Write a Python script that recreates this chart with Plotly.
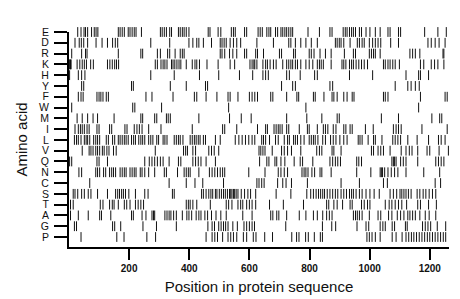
import plotly.graph_objects as go

amino_acids = ["E", "D", "R", "K", "H", "Y", "F", "W", "M", "I",
               "L", "V", "Q", "N", "C", "S", "T", "A", "G", "P"]

pos_E = [29, 40, 50, 55, 62, 75, 84, 90, 96, 164, 170, 177, 184, 197, 203, 210, 217, 223, 241, 304, 310, 317, 324, 335, 341, 364, 370, 377, 383, 390, 399, 463, 469, 496, 505, 540, 547, 553, 584, 591, 629, 636, 643, 658, 665, 671, 687, 694, 705, 711, 718, 724, 731, 738, 744, 795, 833, 868, 875, 912, 919, 925, 933, 940, 946, 953, 966, 973, 988, 1001, 1019, 1035, 1061, 1068, 1096, 1103, 1183, 1227, 1255]
pos_D = [20, 34, 41, 49, 62, 90, 110, 128, 145, 154, 162, 272, 335, 399, 412, 425, 432, 447, 474, 503, 509, 516, 523, 536, 547, 558, 571, 625, 680, 731, 738, 753, 771, 788, 806, 826, 886, 892, 899, 905, 914, 935, 959, 966, 975, 982, 999, 1010, 1019, 1028, 1037, 1070, 1096, 1194, 1205, 1218, 1231, 1251]
pos_R = [9, 42, 55, 60, 164, 239, 245, 294, 304, 328, 335, 353, 370, 377, 383, 503, 509, 518, 534, 545, 558, 584, 591, 621, 627, 647, 700, 707, 747, 753, 799, 806, 815, 835, 853, 872, 916, 946, 953, 999, 1006, 1013, 1019, 1035, 1134, 1143, 1152, 1167, 1244, 1247]
pos_K = [1, 3, 5, 7, 27, 36, 44, 51, 58, 72, 81, 128, 136, 144, 152, 158, 165, 287, 294, 306, 313, 319, 326, 341, 346, 352, 359, 366, 372, 390, 410, 419, 425, 434, 459, 496, 536, 551, 602, 609, 615, 618, 625, 645, 654, 660, 669, 680, 689, 711, 724, 731, 738, 744, 753, 760, 771, 788, 799, 811, 826, 833, 839, 846, 872, 908, 914, 921, 933, 940, 946, 955, 964, 973, 982, 993, 1046, 1052, 1061, 1068, 1077, 1085, 1099, 1169, 1180, 1205, 1216, 1227, 1247]
pos_H = [2, 31, 42, 53, 272, 350, 434, 498, 567, 611, 645, 654, 663, 724, 733, 769, 817, 826, 933, 1010, 1121, 1163, 1169, 1196]
pos_Y = [42, 49, 208, 214, 337, 390, 454, 461, 707, 744, 753, 868, 877, 1085, 1127, 1138, 1152, 1165]
pos_F = [31, 40, 47, 93, 100, 106, 113, 124, 131, 256, 276, 346, 417, 425, 456, 492, 529, 536, 562, 600, 609, 618, 627, 671, 678, 724, 758, 764, 813, 819, 848, 875, 881, 892, 914, 925, 942, 948, 1046, 1052, 1061, 1169, 1251, 1258]
pos_W = [9, 212, 219, 308, 531, 788, 1163]
pos_M = [27, 44, 62, 80, 95, 150, 239, 245, 285, 292, 324, 330, 337, 432, 534, 573, 606, 724, 791, 841, 892, 899, 1039, 1096, 1207, 1233, 1240]
pos_I = [20, 31, 38, 44, 51, 60, 67, 93, 100, 135, 142, 186, 193, 217, 226, 234, 243, 265, 306, 410, 511, 518, 558, 627, 654, 660, 682, 689, 696, 702, 709, 724, 731, 766, 793, 799, 826, 846, 853, 861, 879, 888, 914, 921, 935, 942, 986, 1012, 1079, 1088, 1096, 1105, 1174, 1258]
pos_L = [18, 25, 31, 40, 51, 57, 62, 69, 82, 89, 95, 102, 124, 131, 145, 152, 164, 170, 177, 184, 190, 197, 208, 215, 221, 232, 239, 245, 252, 265, 272, 279, 292, 298, 313, 319, 326, 350, 357, 364, 370, 379, 403, 410, 417, 423, 430, 436, 447, 454, 487, 503, 553, 565, 576, 587, 598, 609, 618, 641, 647, 654, 667, 687, 696, 716, 727, 733, 747, 753, 760, 771, 782, 799, 806, 813, 819, 828, 844, 853, 870, 879, 888, 901, 914, 925, 962, 968, 975, 995, 1013, 1019, 1041, 1077, 1085, 1094, 1103, 1127, 1158, 1196, 1229, 1238, 1251]
pos_V = [44, 67, 73, 80, 89, 95, 102, 111, 117, 126, 133, 148, 157, 287, 381, 388, 394, 412, 421, 465, 474, 483, 498, 632, 638, 645, 652, 676, 707, 716, 727, 740, 771, 824, 833, 841, 875, 881, 905, 1006, 1013, 1028, 1037, 1046, 1068, 1105, 1121, 1132, 1141, 1160, 1191, 1200, 1231, 1262]
pos_Q = [2, 9, 93, 100, 128, 252, 267, 276, 285, 294, 304, 313, 333, 364, 372, 412, 421, 430, 439, 456, 487, 634, 658, 665, 685, 691, 705, 718, 749, 769, 777, 811, 868, 877, 886, 894, 903, 957, 964, 973, 1074, 1079, 1083, 1088, 1103, 1112, 1121, 1160, 1220, 1229, 1238, 1247]
pos_N = [33, 42, 89, 95, 102, 115, 122, 135, 142, 148, 155, 170, 177, 184, 190, 203, 210, 217, 223, 237, 243, 252, 265, 285, 317, 324, 361, 383, 390, 397, 403, 432, 467, 476, 485, 494, 503, 511, 518, 598, 652, 696, 705, 716, 727, 775, 782, 788, 795, 808, 817, 835, 841, 872, 957, 1004, 1035, 1039, 1043, 1050, 1061, 1072, 1083, 1094, 1121, 1180, 1233]
pos_C = [69, 333, 390, 419, 445, 514, 625, 632, 641, 649, 694, 711, 722, 740, 793, 905, 966, 1046, 1059, 1218, 1236]
pos_S = [14, 20, 29, 42, 51, 64, 73, 95, 128, 155, 162, 168, 175, 181, 188, 199, 221, 252, 263, 344, 350, 441, 447, 456, 465, 472, 478, 487, 492, 500, 507, 514, 520, 527, 534, 538, 542, 547, 551, 556, 562, 573, 584, 595, 604, 621, 689, 738, 791, 804, 813, 822, 830, 837, 844, 850, 859, 868, 877, 886, 894, 905, 914, 923, 933, 940, 946, 955, 966, 975, 988, 1001, 1015, 1032, 1068, 1079, 1090, 1101, 1107, 1114, 1121, 1129, 1138, 1158, 1167, 1178, 1187, 1198, 1209, 1220]
pos_T = [5, 14, 104, 113, 135, 144, 150, 164, 184, 192, 203, 221, 230, 239, 248, 390, 397, 403, 412, 425, 470, 523, 531, 542, 562, 571, 578, 591, 600, 609, 621, 667, 713, 780, 857, 864, 881, 892, 910, 935, 942, 973, 982, 993, 1001, 1052, 1065, 1074, 1085, 1096, 1107, 1123, 1160, 1169, 1196, 1222]
pos_A = [5, 31, 64, 102, 108, 139, 208, 214, 243, 256, 276, 281, 285, 319, 326, 333, 339, 348, 357, 377, 392, 399, 408, 423, 432, 439, 452, 461, 474, 489, 505, 523, 578, 609, 671, 678, 691, 698, 724, 766, 788, 813, 826, 844, 857, 866, 875, 946, 953, 959, 966, 975, 999, 1028, 1037, 1063, 1074, 1092, 1103, 1114, 1127, 1134, 1143, 1152, 1167, 1185, 1198, 1220]
pos_G = [18, 25, 145, 152, 172, 246, 291, 357, 462, 476, 484, 498, 506, 514, 521, 529, 545, 560, 582, 591, 600, 609, 617, 721, 843, 874, 887, 958, 988, 997, 1035, 1044, 1052, 1075, 1083, 1119, 1125, 1176, 1185, 1194, 1203, 1225, 1253]
pos_P = [40, 159, 183, 259, 288, 456, 476, 485, 494, 511, 529, 538, 547, 558, 580, 591, 613, 622, 651, 677, 741, 757, 765, 787, 796, 816, 836, 843, 991, 999, 1008, 1019, 1035, 1075, 1088, 1108, 1121, 1130, 1139, 1147, 1156, 1165, 1174, 1183, 1192, 1200, 1209, 1218, 1227, 1236, 1245, 1253]

x_tick_vals = [200, 400, 600, 800, 1000, 1200]
x_tick_text = ["200", "400", "600", "800", "1000", "1200"]

positions = {
    "E": pos_E, "D": pos_D, "R": pos_R, "K": pos_K, "H": pos_H,
    "Y": pos_Y, "F": pos_F, "W": pos_W, "M": pos_M, "I": pos_I,
    "L": pos_L, "V": pos_V, "Q": pos_Q, "N": pos_N, "C": pos_C,
    "S": pos_S, "T": pos_T, "A": pos_A, "G": pos_G, "P": pos_P,
}

FONT = "Liberation Sans, Arial, Helvetica, sans-serif"
n = len(amino_acids)

fig = go.Figure()
for i, aa in enumerate(amino_acids):
    xs = positions[aa]
    fig.add_trace(go.Scatter(
        x=xs, y=[n - i] * len(xs), mode="markers",
        marker=dict(symbol="line-ns", size=7,
                    line=dict(width=1, color="#111111")),
        showlegend=False, hoverinfo="x", cliponaxis=False,
    ))

fig.update_layout(
    width=460, height=299,
    margin=dict(l=59, r=19, t=24, b=60),
    paper_bgcolor="white", plot_bgcolor="white",
    font=dict(family=FONT, color="#111"),
    xaxis=dict(
        range=[0, 1264], showgrid=False, zeroline=False,
        showline=True, linecolor="black", linewidth=2,
        ticks="outside", ticklen=11, tickwidth=2, tickcolor="black",
        tickvals=x_tick_vals, ticktext=x_tick_text,
        tickfont=dict(size=10, color="#111", weight="bold"),
        title=dict(text="Position in protein sequence",
                   font=dict(size=15, color="#111"), standoff=8),
    ),
    yaxis=dict(
        range=[0.073, 20], showgrid=False, zeroline=False,
        showline=True, linecolor="black", linewidth=2,
        ticks="outside", ticklen=13, tickwidth=1.5, tickcolor="black",
        tickvals=[n - i for i in range(n)], ticktext=amino_acids,
        tickfont=dict(size=10.5, color="#111"),
        ticklabelstandoff=3,
        title=dict(text="Amino acid",
                   font=dict(size=15, color="#111"), standoff=8),
    ),
)

fig.write_html("out.html")
